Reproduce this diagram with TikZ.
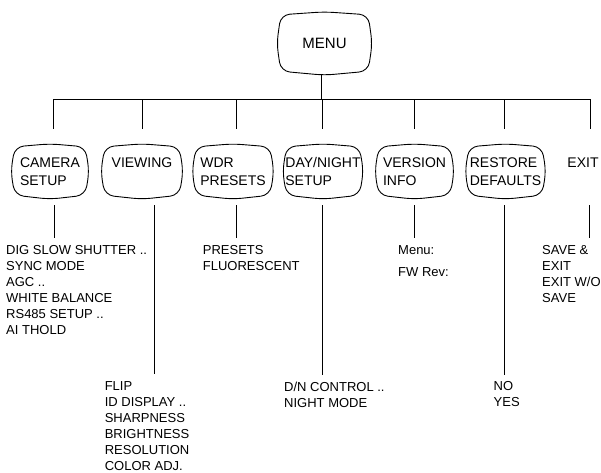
\documentclass[tikz,border=0pt]{standalone}
\usepackage{fontspec}
\setmainfont{Liberation Sans}
\usetikzlibrary{calc}
\tikzset{
  tvbox/.style={rectangle, inner sep=0pt, minimum height=55pt, align=left, font=\fontsize{14}{18}\selectfont},
  listtext/.style={anchor=north west, inner sep=0pt, align=left, font=\fontsize{13}{16}\selectfont},
  link/.style={line width=0.8pt},
  tvline/.style={line width=0.9pt, rounded corners=9pt}
}
\newcommand\tvframe[1]{%
  \draw[tvline] (#1.north)
    -- ([xshift=-4pt,yshift=-3pt]#1.north east)
    -- (#1.east)
    -- ([xshift=-4pt,yshift=4pt]#1.south east)
    -- (#1.south)
    -- ([xshift=4pt,yshift=4pt]#1.south west)
    -- (#1.west)
    -- ([xshift=4pt,yshift=-3pt]#1.north west)
    -- cycle;}
\begin{document}
\begin{tikzpicture}[x=1pt,y=1pt]
\useasboundingbox (0,0) rectangle (601,-472);

% boxes
\node[tvbox, minimum width=95pt, minimum height=63pt, font=\fontsize{15}{18}\selectfont] (menu) at (324.5,-43.5) {MENU};
\node[tvbox, minimum width=78pt] (cam) at (50,-171.5) {CAMERA\\SETUP};
\node[tvbox, minimum width=82pt] (view) at (142,-171.5) {VIEWING\\\phantom{V}};
\node[tvbox, minimum width=81.5pt] (wdr) at (233,-171.5) {WDR\\PRESETS};
\node[tvbox, minimum width=80.5pt] (dn) at (323,-171.5) {DAY/NIGHT\\SETUP};
\node[tvbox, minimum width=79pt] (ver) at (414.5,-171.5) {VERSION\\INFO};
\node[tvbox, minimum width=80.5pt] (res) at (505.5,-171.5) {RESTORE\\DEFAULTS};
\node[tvbox, minimum width=40pt] (exit) at (583,-171.5) {EXIT\\\phantom{E}};

\foreach \n in {menu,cam,view,wdr,dn,ver,res} {\tvframe{\n}}

% bus
\coordinate (busL) at (53,-99);
\coordinate (busR) at (591,-99);
\draw[link] (busL) -- (busR);
\draw[link] ([xshift=-3.5pt]menu.south) -- ([xshift=-3.5pt]menu.south |- busL);
\foreach \n/\d in {cam/3,view/0.3,wdr/3,dn/-0.7,ver/0,res/-1,exit/7}
  {\draw[link] ([xshift=\d pt]\n.north |- busL) -- ([xshift=\d pt,yshift=15pt]\n.north);}

% lists
\node[listtext] (camlist) at (6,-245.3) {DIG SLOW SHUTTER ..\\SYNC MODE\\AGC ..\\WHITE BALANCE\\RS485 SETUP ..\\AI THOLD};
\node[listtext] (viewlist) at (104.6,-381) {FLIP\\ID DISPLAY ..\\SHARPNESS\\BRIGHTNESS\\RESOLUTION\\COLOR ADJ.};
\node[listtext] (wdrlist) at (202.7,-245.3) {PRESETS\\FLUORESCENT};
\node[listtext] (dnlist) at (284,-381.5) {D/N CONTROL ..\\NIGHT MODE};
\node[listtext] (verlist) at (398,-245.3) {Menu:\\[6pt]FW Rev:};
\node[listtext] (reslist) at (493.5,-381.5) {NO\\YES};
\node[listtext] (exitlist) at (542,-245.3) {SAVE \&\\EXIT\\EXIT W/O\\SAVE};

\foreach \n/\l/\d in {cam/camlist/4, view/viewlist/12, wdr/wdrlist/3, dn/dnlist/-1, ver/verlist/0, res/reslist/-1, exit/exitlist/6}
  {\draw[link, shorten <=6pt, shorten >=7pt] ([xshift=\d pt]\n.south) -- ([xshift=\d pt]\n.south |- \l.north);}
\end{tikzpicture}
\end{document}
